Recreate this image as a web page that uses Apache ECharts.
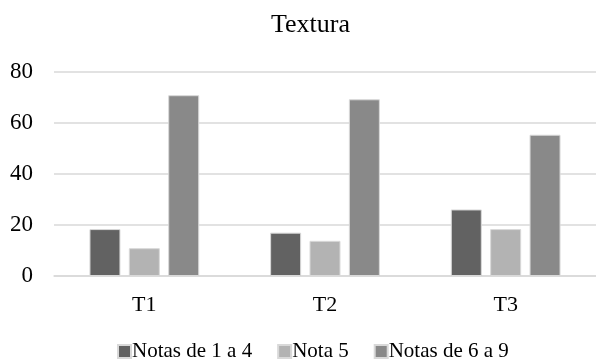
<!DOCTYPE html>
<html><head><meta charset="utf-8">
<script src="https://cdn.jsdelivr.net/npm/echarts@6/dist/echarts.min.js"></script>
<style>html,body{margin:0;padding:0;background:#fff}#c{width:596px;height:363px}</style>
</head><body><div id="c"></div>
<script>
const categories = ['T1', 'T2', 'T3'];
const seriesNames = ['Notas de 1 a 4', 'Nota 5', 'Notas de 6 a 9'];
const notas1a4 = [18.4, 17.0, 26.1];
const nota5 = [10.9, 13.8, 18.4];
const notas6a9 = [70.9, 69.3, 55.4];
const yTicks = [0, 20, 40, 60, 80];
const colors = ['#626262', '#b3b3b3', '#898989'];
const font = '"Liberation Serif", "Times New Roman", serif';
const chart = echarts.init(document.getElementById('c'));
const data = [notas1a4, nota5, notas6a9];
chart.setOption({
  animation: false,
  title: { text: 'Textura', left: 266, top: 7, textStyle: { fontFamily: font, fontSize: 26, fontWeight: 'normal', color: '#000' } },
  legend: { bottom: -4, left: 112, itemWidth: 13, itemHeight: 13, itemGap: 25, icon: 'rect',
    textStyle: { fontFamily: font, fontSize: 21, color: '#000', padding: [0, 0, 0, -4] },
    data: seriesNames },
  grid: { left: 54, width: 545, top: 72, bottom: 87 },
  xAxis: { type: 'category', data: categories,
    axisLine: { show: true, lineStyle: { color: '#d9d9d9', width: 1.5 } },
    axisTick: { show: false },
    axisLabel: { fontFamily: font, fontSize: 22, color: '#000', margin: 18 } },
  yAxis: { type: 'value', min: 0, max: 80, interval: 20,
    axisLine: { show: false }, axisTick: { show: false },
    axisLabel: { fontFamily: font, fontSize: 23, color: '#000', margin: 21,
      formatter: v => yTicks.includes(v) ? String(v) : '' },
    splitLine: { lineStyle: { color: '#d9d9d9', width: 1.5 } } },
  series: seriesNames.map((n, i) => ({
    name: n, type: 'bar', data: data[i], barWidth: 31, barGap: '27%',
    itemStyle: { color: colors[i], borderColor: '#d9d9d9', borderWidth: 1 }
  }))
});
</script></body></html>
